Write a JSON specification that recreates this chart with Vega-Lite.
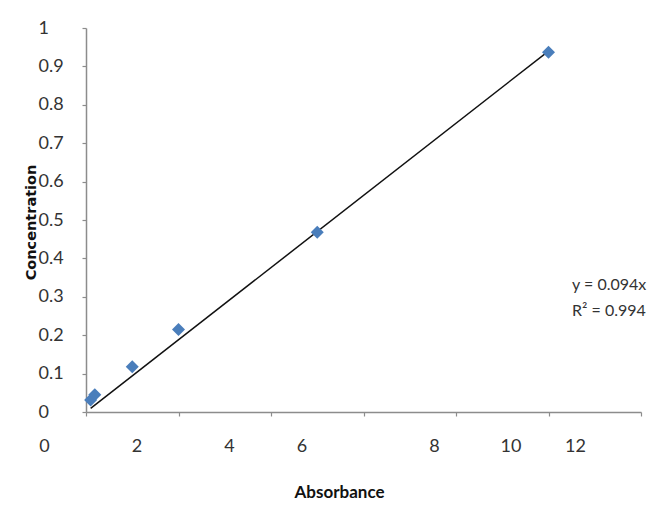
{
  "$schema": "https://vega.github.io/schema/vega-lite/v6.json",
  "autosize": "none",
  "width": 555,
  "height": 384,
  "padding": {"left": 86, "top": 28, "right": 16, "bottom": 96},
  "background": "white",
  "config": {
    "view": {"stroke": null},
    "axis": {
      "grid": false,
      "domainColor": "#8c8c8c",
      "domainWidth": 1.5,
      "tickColor": "#8c8c8c",
      "tickSize": 4,
      "tickWidth": 1.2,
      "labelFont": "Lato",
      "labelFontSize": 18,
      "labelColor": "#333333",
      "labelFlush": false,
      "labelOverlap": false,
      "titleColor": "#111111",
      "titleFontWeight": "bold"
    }
  },
  "datasets": {
    "points": [
      {"absorbance": 0.1, "concentration": 0.031},
      {"absorbance": 0.19, "concentration": 0.045},
      {"absorbance": 1.0, "concentration": 0.118},
      {"absorbance": 2.0, "concentration": 0.215},
      {"absorbance": 5.0, "concentration": 0.468},
      {"absorbance": 10.0, "concentration": 0.937}
    ],
    "trend": [
      {"absorbance": 0.1, "concentration": 0.0094},
      {"absorbance": 10.0, "concentration": 0.94}
    ],
    "equation": [
      {"absorbance": 10.51, "concentration": 0.331}
    ]
  },
  "encoding": {
    "x": {
      "field": "absorbance", "type": "quantitative",
      "scale": {"domain": [0, 12], "nice": false},
      "axis": {
        "values": [0, 2, 4, 6, 8, 10, 12],
        "labelBaseline": "middle",
        "labelPadding": 30,
        "labelOffset": {
          "condition": [
            {"test": "datum.value == 6", "value": -62},
            {"test": "datum.value == 8", "value": -22},
            {"test": "datum.value == 10", "value": -38},
            {"test": "datum.value == 12", "value": -66}
          ],
          "value": -42
        },
        "title": "Absorbance",
        "titleFont": "Lato",
        "titleFontSize": 17,
        "titleX": 253,
        "titleY": 80,
        "titleAlign": "center",
        "titleBaseline": "middle",
        "titleAnchor": null
      }
    },
    "y": {
      "field": "concentration", "type": "quantitative",
      "scale": {"domain": [0, 1], "nice": false},
      "axis": {
        "values": [0, 0.1, 0.2, 0.3, 0.4, 0.5, 0.6, 0.7, 0.8, 0.9, 1],
        "format": ".1~f",
        "labelAlign": "left",
        "labelBaseline": "middle",
        "labelPadding": 44,
        "title": "Concentration",
        "titleFont": "DejaVu Sans",
        "titleFontSize": 14.5,
        "titleX": -55,
        "titleY": 194,
        "titleAlign": "center",
        "titleBaseline": "middle",
        "titleAngle": -90
      }
    }
  },
  "layer": [
    {
      "data": {"name": "trend"},
      "mark": {"type": "line", "color": "#111111", "strokeWidth": 1.5}
    },
    {
      "data": {"name": "points"},
      "mark": {"type": "point", "shape": "diamond", "filled": true, "size": 170, "color": "#4a7ebb", "opacity": 1}
    },
    {
      "data": {"name": "equation"},
      "mark": {
        "type": "text",
        "align": "left",
        "baseline": "middle",
        "font": "Lato",
        "fontSize": 16,
        "lineHeight": 26,
        "color": "#333333",
        "text": ["y = 0.094x", "R² = 0.994"]
      }
    }
  ]
}
